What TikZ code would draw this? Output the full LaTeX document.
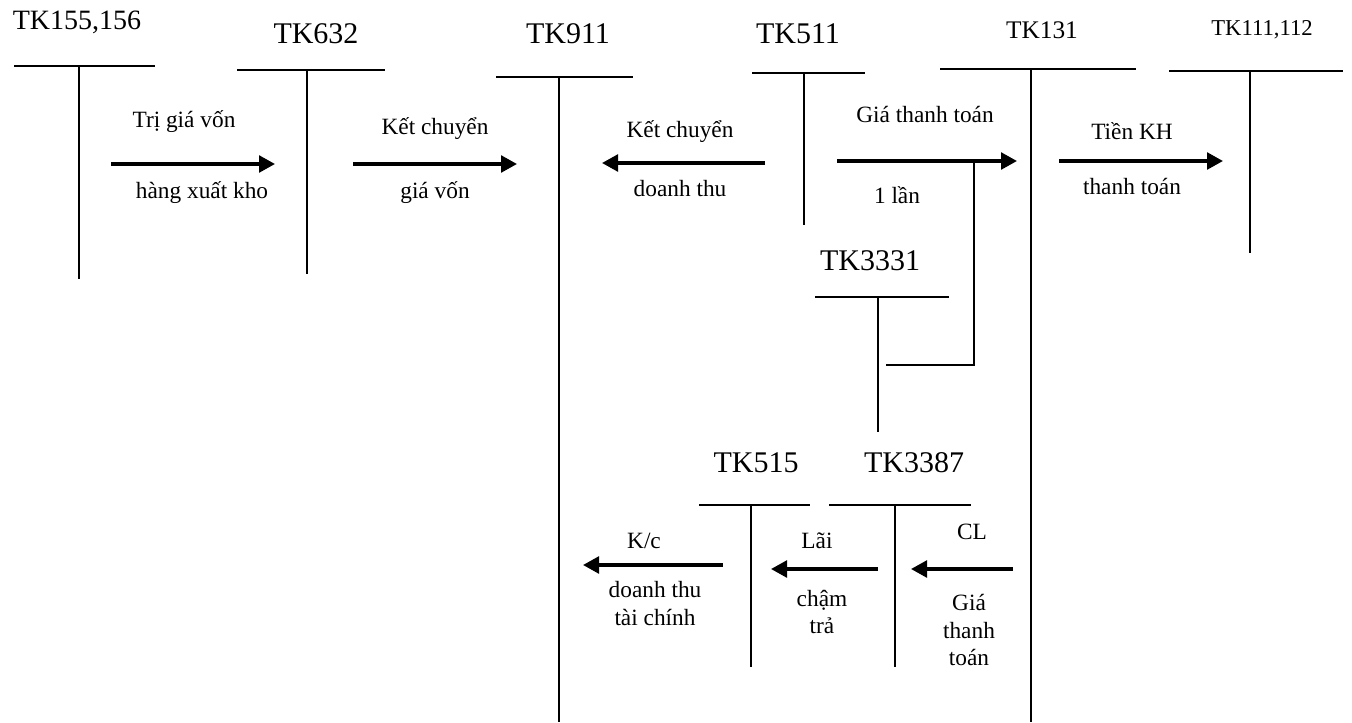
\documentclass[tikz,border=0pt]{standalone}
\usepackage{fontspec}
\setmainfont{Liberation Serif}
\usetikzlibrary{arrows.meta}
\tikzset{
  tacc/.style={line width=1.6pt},
  flow/.style={line width=2.6pt,-{Triangle[length=12pt,width=12.5pt]}},
  lbl/.style={inner sep=0pt,font=\fontsize{17.5}{21}\selectfont,align=center},
  ttl/.style={inner sep=0pt,font=\fontsize{22.5}{26}\selectfont},
}
\begin{document}
\begin{tikzpicture}[x=0.75pt,y=-0.75pt]
\useasboundingbox[fill=white] (0,0) rectangle (1352,722);
% ---------- T accounts ----------
% TK155,156
\node[ttl,font=\fontsize{21}{24}\selectfont] (t155) at (77,22) {TK155,156};
\coordinate (t155l) at (14,66); \coordinate (t155r) at (155,66);
\coordinate (t155t) at (79,66); \coordinate (t155b) at (79,279);
\draw[tacc] (t155l) -- (t155r); \draw[tacc] (t155t) -- (t155b);
% TK632
\node[ttl] (t632) at (316,34) {TK632};
\coordinate (t632l) at (237,70); \coordinate (t632r) at (385,70);
\coordinate (t632t) at (307,70); \coordinate (t632b) at (307,274);
\draw[tacc] (t632l) -- (t632r); \draw[tacc] (t632t) -- (t632b);
% TK911
\node[ttl] (t911) at (568,34) {TK911};
\coordinate (t911l) at (496,77); \coordinate (t911r) at (633,77);
\coordinate (t911t) at (559,77); \coordinate (t911b) at (559,722);
\draw[tacc] (t911l) -- (t911r); \draw[tacc] (t911t) -- (t911b);
% TK511
\node[ttl] (t511) at (798,34) {TK511};
\coordinate (t511l) at (752,73); \coordinate (t511r) at (865,73);
\coordinate (t511t) at (804,73); \coordinate (t511b) at (804,225);
\draw[tacc] (t511l) -- (t511r); \draw[tacc] (t511t) -- (t511b);
% TK131
\node[ttl,font=\fontsize{19}{22}\selectfont] (t131) at (1042,30) {TK131};
\coordinate (t131l) at (940,69); \coordinate (t131r) at (1136,69);
\coordinate (t131t) at (1031,69); \coordinate (t131b) at (1031,722);
\draw[tacc] (t131l) -- (t131r); \draw[tacc] (t131t) -- (t131b);
% TK111,112
\node[ttl,font=\fontsize{17}{20}\selectfont] (t111) at (1262,30) {TK111,112};
\coordinate (t111l) at (1169,71); \coordinate (t111r) at (1343,71);
\coordinate (t111t) at (1250,71); \coordinate (t111b) at (1250,253);
\draw[tacc] (t111l) -- (t111r); \draw[tacc] (t111t) -- (t111b);
% TK3331
\node[ttl] (t3331) at (870,261) {TK3331};
\coordinate (t3331l) at (815,297); \coordinate (t3331r) at (949,297);
\coordinate (t3331t) at (878,297); \coordinate (t3331b) at (878,432);
\draw[tacc] (t3331l) -- (t3331r); \draw[tacc] (t3331t) -- (t3331b);
% TK515
\node[ttl] (t515) at (756,463) {TK515};
\coordinate (t515l) at (699,505); \coordinate (t515r) at (810,505);
\coordinate (t515t) at (751,505); \coordinate (t515b) at (751,667);
\draw[tacc] (t515l) -- (t515r); \draw[tacc] (t515t) -- (t515b);
% TK3387
\node[ttl] (t3387) at (914,463) {TK3387};
\coordinate (t3387l) at (829,505); \coordinate (t3387r) at (971,505);
\coordinate (t3387t) at (895,505); \coordinate (t3387b) at (895,667);
\draw[tacc] (t3387l) -- (t3387r); \draw[tacc] (t3387t) -- (t3387b);
% ---------- flows ----------
\coordinate (a1s) at (111,164); \coordinate (a1e) at (275,164);
\draw[flow] (a1s) -- (a1e);
\node[lbl] (a1u) at (184,122) {Trị giá vốn};
\node[lbl] (a1d) at (202,193) {hàng xuất kho};
\coordinate (a2s) at (353,164); \coordinate (a2e) at (517,164);
\draw[flow] (a2s) -- (a2e);
\node[lbl] (a2u) at (435,129) {Kết chuyển};
\node[lbl] (a2d) at (435,193) {giá vốn};
\coordinate (a3s) at (765,163); \coordinate (a3e) at (602,163);
\draw[flow] (a3s) -- (a3e);
\node[lbl] (a3u) at (680,132) {Kết chuyển};
\node[lbl] (a3d) at (680,189) {doanh thu};
\coordinate (a4s) at (837,161); \coordinate (a4e) at (1017,161);
\draw[flow] (a4s) -- (a4e);
\node[lbl] (a4u) at (925,114) {Giá thanh toán};
\node[lbl] (a4d) at (897,195) {1 lần};
\coordinate (v1) at (974,161); \coordinate (v2) at (974,365); \coordinate (v3) at (886,365);
\draw[tacc] (v1) -- (v2) -- (v3);
\coordinate (a5s) at (1059,161); \coordinate (a5e) at (1223,161);
\draw[flow] (a5s) -- (a5e);
\node[lbl] (a5u) at (1132,131) {Tiền KH};
\node[lbl] (a5d) at (1132,186) {thanh toán};
\coordinate (a6s) at (723,565); \coordinate (a6e) at (583,565);
\draw[flow] (a6s) -- (a6e);
\node[lbl] (a6u) at (644,541) {K/c};
\node[lbl,font=\fontsize{17.5}{21}\selectfont] (a6d) at (655,604) {doanh thu\\tài chính};
\coordinate (a7s) at (878,569); \coordinate (a7e) at (771,569);
\draw[flow] (a7s) -- (a7e);
\node[lbl] (a7u) at (817,541) {Lãi};
\node[lbl,font=\fontsize{17.5}{20.5}\selectfont] (a7d) at (822,612) {chậm\\trả};
\coordinate (a8s) at (1013,569); \coordinate (a8e) at (911,569);
\draw[flow] (a8s) -- (a8e);
\node[lbl] (a8u) at (972,532) {CL};
\node[lbl,font=\fontsize{17.5}{20.7}\selectfont] (a8d) at (969,630) {Giá\\thanh\\toán};
\end{tikzpicture}
\end{document}
